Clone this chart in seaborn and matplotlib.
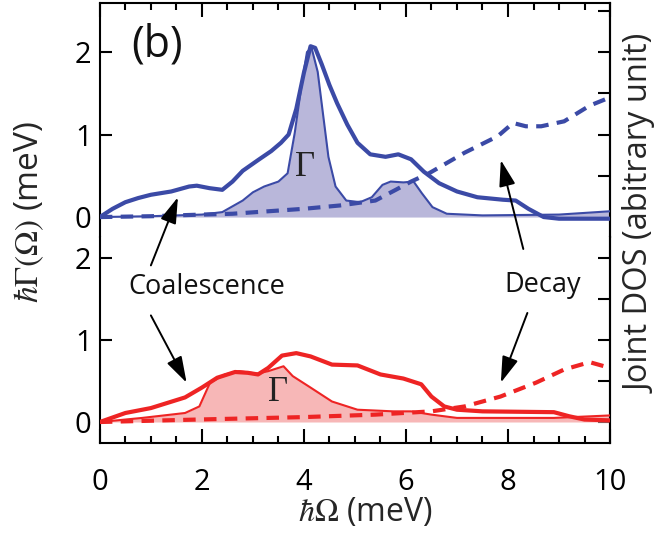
import numpy as np
import pandas as pd
import matplotlib
matplotlib.use("Agg")
import matplotlib.pyplot as plt
from matplotlib.ticker import MultipleLocator
import seaborn as sns

# ---- data (energies in meV) ----
# upper panel (blue): total damping, Gamma contribution (shaded), joint DOS
top_total_x = [0, 0.25, 0.5, 0.75, 1.0, 1.4, 1.75, 1.9, 2.15, 2.4, 2.6, 2.8, 3.1, 3.36, 3.55, 3.7,
               3.85, 4.0, 4.13, 4.22, 4.35, 4.5, 4.65, 4.85, 5.05, 5.3, 5.6, 5.85, 6.1, 6.35,
               6.65, 7.0, 7.4, 7.9, 8.15, 8.4, 8.7, 9.0, 10.0]
top_total_y = [0, 0.1, 0.18, 0.23, 0.27, 0.31, 0.37, 0.38, 0.35, 0.33, 0.43, 0.56, 0.69, 0.8, 0.9, 1.0,
               1.31, 1.75, 2.07, 2.05, 1.85, 1.6, 1.38, 1.12, 0.9, 0.76, 0.73, 0.76, 0.7, 0.55,
               0.41, 0.31, 0.24, 0.21, 0.2, 0.1, 0.0, -0.02, -0.02]

top_gamma_x = [0, 1.0, 2.0, 2.4, 2.8, 3.0, 3.22, 3.5, 3.68, 3.82, 3.96, 4.06, 4.15, 4.27, 4.38,
               4.48, 4.62, 4.83, 5.1, 5.33, 5.54, 5.7, 5.95, 6.15, 6.31, 6.52, 6.8, 7.5, 9.0, 10.0]
top_gamma_y = [0, 0.01, 0.03, 0.06, 0.2, 0.3, 0.37, 0.43, 0.53, 1.02, 1.63, 2.0, 2.05, 1.76, 1.22,
               0.73, 0.37, 0.2, 0.18, 0.24, 0.39, 0.43, 0.42, 0.43, 0.29, 0.12, 0.04, 0.02, 0.03, 0.07]

top_jdos_x = [0, 1, 2, 2.6, 3.3, 4.0, 4.7, 5.4, 5.8, 6.1, 6.45, 7.15, 7.8, 8.1, 8.35, 8.65, 9.1, 9.6, 10]
top_jdos_y = [0, 0.01, 0.03, 0.04, 0.07, 0.1, 0.14, 0.2, 0.33, 0.43, 0.53, 0.78, 0.98, 1.14, 1.1,
              1.1, 1.16, 1.35, 1.45]

# lower panel (red)
bot_total_x = [0, 0.5, 1.0, 1.67, 2.0, 2.3, 2.65, 2.9, 3.1, 3.3, 3.57, 3.85, 4.13, 4.55, 5.05,
               5.5, 5.95, 6.3, 6.5, 6.75, 7.0, 7.5, 8.9, 9.2, 9.5, 10]
bot_total_y = [0, 0.11, 0.17, 0.3, 0.42, 0.54, 0.61, 0.6, 0.58, 0.66, 0.81, 0.84, 0.8, 0.7, 0.69,
               0.58, 0.53, 0.46, 0.31, 0.19, 0.15, 0.13, 0.12, 0.07, 0.03, 0.02]

bot_gamma_x = [0, 0.83, 1.67, 1.95, 2.16, 2.45, 2.73, 3.08, 3.3, 3.6, 3.78, 4.13, 4.55, 5.05,
               5.75, 6.1, 6.5, 7.0, 8.9, 10]
bot_gamma_y = [0, 0.05, 0.11, 0.19, 0.48, 0.58, 0.62, 0.59, 0.62, 0.68, 0.56, 0.42, 0.25, 0.15,
               0.13, 0.13, 0.09, 0.05, 0.05, 0.08]

bot_jdos_x = [0, 1.9, 4.0, 5.4, 6.5, 7.15, 7.85, 8.55, 9.1, 9.6, 10]
bot_jdos_y = [0, 0.03, 0.06, 0.09, 0.13, 0.19, 0.31, 0.48, 0.64, 0.73, 0.66]

x_ticks = [0, 2, 4, 6, 8, 10]
y_ticks = [0, 1, 2]
jdos_ticks = [0, 0.5, 1.0, 1.5, 2.0, 2.5]

BLUE, BLUE_FILL = "#3b4aa6", "#b9b7da"
RED, RED_FILL = "#ee2424", "#f7b7b7"

sns.set_theme(style="ticks")
plt.rcParams["font.family"] = ["Open Sans", "DejaVu Sans"]
plt.rcParams["mathtext.fontset"] = "stix"

fig = plt.figure(figsize=(6.57, 5.36), dpi=100)
ax_top = fig.add_axes([0.152, 0.5578, 0.7765, 0.4366])
ax_bot = fig.add_axes([0.152, 0.1735, 0.7765, 0.3843], sharex=ax_top)
ax_top.set_ylim(-0.242, 2.594)
ax_bot.set_ylim(-0.256, 2.256)
ax_top.set_xlim(0, 10)

def draw_panel(ax, tx, ty, gx, gy, jx, jy, color, fill):
    ax.fill_between(gx, 0, gy, color=fill, lw=0, zorder=1)
    sns.lineplot(x=gx, y=gy, ax=ax, color=color, linewidth=1.5, zorder=3)
    sns.lineplot(x=jx, y=jy, ax=ax, color=color, linewidth=3.0,
                 linestyle=(0, (3, 2)), zorder=3)
    sns.lineplot(x=tx, y=ty, ax=ax, color=color, linewidth=3.0, zorder=4)

draw_panel(ax_top, top_total_x, top_total_y, top_gamma_x, top_gamma_y,
           top_jdos_x, top_jdos_y, BLUE, BLUE_FILL)
draw_panel(ax_bot, bot_total_x, bot_total_y, bot_gamma_x, bot_gamma_y,
           bot_jdos_x, bot_jdos_y, RED, RED_FILL)

TICK_FS = 21
for ax in (ax_top, ax_bot):
    for s in ax.spines.values():
        s.set_linewidth(1.5)
        s.set_color("black")
    ax.set_yticks(y_ticks)
    ax.tick_params(axis="y", direction="in", length=8.5, width=1.5, left=True, right=False,
                   labelsize=TICK_FS, pad=6, colors="black")
    ax.set_xlabel("")
    ax.set_ylabel("")
    sec = ax.secondary_yaxis("right")
    sec.set_yticks(jdos_ticks)
    sec.set_yticklabels([])
    sec.tick_params(direction="in", length=8.5, width=1.5, colors="black")
    sec.spines["right"].set_linewidth(1.5)

ax_top.spines["bottom"].set_visible(False)
ax_bot.spines["top"].set_visible(False)

ax_top.xaxis.set_major_locator(MultipleLocator(2))
ax_top.xaxis.set_minor_locator(MultipleLocator(0.5))
ax_top.tick_params(axis="x", which="both", direction="in", top=True, bottom=False,
                   labeltop=False, labelbottom=False, width=1.5, colors="black")
ax_top.tick_params(axis="x", which="major", length=10)
ax_top.tick_params(axis="x", which="minor", length=5)
ax_bot.tick_params(axis="x", which="both", direction="in", top=False, bottom=True,
                   labelbottom=True, width=1.5, colors="black", labelsize=TICK_FS, pad=18)
ax_bot.tick_params(axis="x", which="major", length=10)
ax_bot.tick_params(axis="x", which="minor", length=5)
ax_bot.set_xticks(x_ticks)

# panel text
ax_top.text(1.12, 2.08, "(b)", fontsize=31, ha="center", va="center", color="#111111")
ax_top.text(4.02, 0.6, "Γ", fontsize=25, ha="center", va="center",
            family=["Liberation Serif", "DejaVu Serif"], color="#222222")
ax_bot.text(3.5, 0.36, "Γ", fontsize=25, ha="center", va="center",
            family=["Liberation Serif", "DejaVu Serif"], color="#222222")

ax_bot.text(2.09, 1.65, "Coalescence", fontsize=19.5, ha="center", va="center", color="#111111")
ax_bot.text(8.68, 1.67, "Decay", fontsize=19.5, ha="center", va="center", color="#111111")

arrow = dict(arrowstyle="-|>,head_length=0.8,head_width=0.25", color="black", lw=1.4,
             shrinkA=0, shrinkB=0, mutation_scale=20)
ax_bot.annotate("", xy=(1.53, 0.24), xycoords=ax_top.transData,
                xytext=(1.0, 1.91), textcoords=ax_bot.transData, arrowprops=arrow)
ax_bot.annotate("", xy=(1.7, 0.48), xycoords=ax_bot.transData,
                xytext=(1.0, 1.30), textcoords=ax_bot.transData, arrowprops=arrow)
ax_bot.annotate("", xy=(7.86, 0.69), xycoords=ax_top.transData,
                xytext=(8.3, 2.11), textcoords=ax_bot.transData, arrowprops=arrow)
ax_bot.annotate("", xy=(7.86, 0.48), xycoords=ax_bot.transData,
                xytext=(8.38, 1.33), textcoords=ax_bot.transData, arrowprops=arrow)

# axis titles
fig.text(0.045, 1 - 212 / 536, r"$\hbar\Gamma(\Omega)$ (meV)", rotation=90, fontsize=24,
         ha="center", va="center")
fig.text(641 / 657, 1 - 214 / 536, "Joint DOS (abitrary unit)", rotation=90, fontsize=23.5,
         ha="center", va="center")
fig.text(365 / 657, 1 - 512 / 536, r"$\hbar\Omega$ (meV)", fontsize=23, ha="center", va="center")

fig.savefig("out.png", dpi=100)
